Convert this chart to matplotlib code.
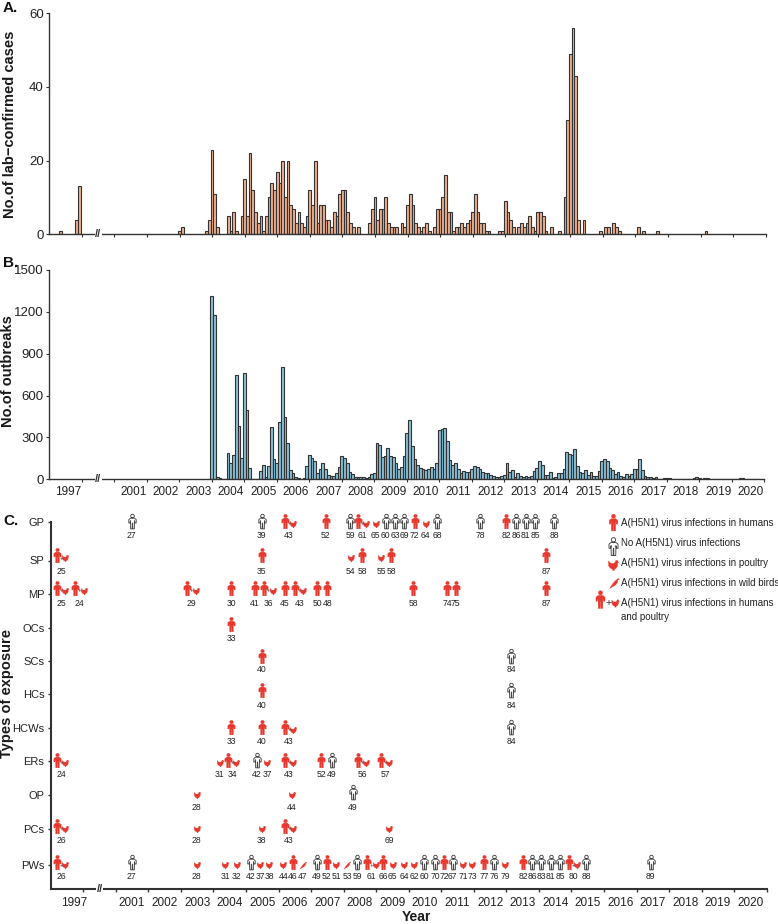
import numpy as np
import matplotlib
matplotlib.use("Agg")
import matplotlib.pyplot as plt
from matplotlib.path import Path

plt.rcParams['font.family'] = ['Liberation Sans', 'DejaVu Sans']

W, H = 778, 924

# ---------- monthly slots: 0-11 = 1997, 12-23 = axis break, 24.. = 2001 onward ----------
N_SLOTS = 264
year_ticks = list(range(12, 265, 12))
year_labels = ['1997'] + [str(y) for y in range(2001, 2021)]

cases_early_slots = [4, 10, 11, 48, 49]
cases_early = [1, 4, 13, 1, 2]
cases_main_start = 58
cases_main = [
    1, 4, 23, 11, 2, 0, 0, 0, 5, 1, 6, 1, 0, 5,
    15, 5, 22, 12, 6, 3, 5, 1, 5, 10, 14, 12,
    17, 14, 20, 10, 20, 8, 7, 3, 6, 3, 2, 5,
    12, 8, 20, 3, 8, 8, 4, 4, 2, 6, 5, 11,
    12, 12, 6, 3, 2, 0, 2, 0, 0, 0, 3, 7,
    10, 4, 7, 7, 10, 3, 2, 2, 2, 0, 3, 2,
    8, 11, 8, 3, 2, 1, 2, 3, 1, 0, 2, 7,
    7, 10, 16, 6, 6, 1, 2, 2, 3, 2, 3, 4,
    6, 11, 6, 3, 3, 1, 1, 0, 0, 0, 1, 1,
    9, 6, 4, 2, 0, 2, 3, 2, 3, 5, 2, 1,
    6, 6, 5, 1, 0, 2, 0, 0, 1, 0, 10, 31,
    49, 56, 43, 4, 0, 4, 0, 0, 0, 0, 0, 1,
    0, 2, 2, 0, 3, 2, 1, 0, 0, 0, 0, 0, 0, 2,
    0, 1, 0, 0, 0, 0, 1, 0, 0, 0, 0, 0, 0, 0, 0, 0,
    0, 0, 0, 0, 0, 0, 0, 0, 1,
]

outbreaks_start = 59
outbreaks = [
    5, 1315, 1180, 20, 8, 3, 5, 190, 115, 175, 750, 380, 150,
    760, 500, 80, 5, 3, 2, 60, 100, 20, 95, 375, 145,
    115, 410, 805, 450, 260, 65, 45, 15, 12, 5, 12, 95,
    175, 155, 130, 45, 75, 120, 75, 30, 22, 22, 45, 90,
    165, 150, 115, 55, 35, 20, 15, 18, 18, 10, 15, 35,
    42, 260, 245, 157, 165, 225, 165, 157, 120, 75, 85, 170,
    335, 425, 240, 145, 100, 80, 75, 68, 72, 90, 75, 115,
    355, 360, 365, 275, 140, 100, 115, 72, 43, 60, 50, 50,
    72, 93, 88, 72, 50, 45, 43, 30, 26, 20, 14, 26,
    30, 115, 50, 65, 20, 45, 26, 14, 26, 20, 26, 57,
    80, 130, 100, 30, 30, 50, 8, 20, 45, 45, 75, 195,
    178, 172, 220, 95, 55, 43, 65, 30, 50, 26, 26, 60,
    130, 148, 130, 80, 65, 40, 50, 26, 14, 35, 24, 38,
    75, 72, 143, 66, 24, 20, 14, 8, 14, 3, 5, 8,
    6, 6, 5, 5, 3, 4, 5, 3, 3, 2, 6, 18, 8, 3,
    8, 6, 3, 2, 2, 2, 1, 1, 2, 1, 1, 1, 3, 10, 12,
    4, 1, 1, 2, 1, 1,
]

# ---------- panel C ----------
row_names = ['GP', 'SP', 'MP', 'OCs', 'SCs', 'HCs', 'HCWs', 'ERs', 'OP', 'PCs', 'PWs']
row_tick = [521.5, 560.5, 594, 627.7, 660.7, 694, 727.7, 761, 795, 829, 865]
row_icon = [520.7, 555.3, 588, 623.7, 655.7, 690, 726.7, 760, 792.3, 826, 862.3]
row_text = [536, 571.3, 603.3, 638.3, 670, 705.3, 741.3, 774.3, 807.3, 840.7, 876.7]

# kinds: H human, N none, P poultry, W wild birds, B both human + poultry
gp = [(29.9, 'N', 27), (77.8, 'N', 39), (87.9, 'B', 43), (101.4, 'H', 52), (110.4, 'N', 59),
      (114.8, 'B', 61), (119.8, 'P', 65), (123.5, 'N', 60), (127.0, 'N', 63), (130.4, 'N', 69),
      (134.2, 'H', 72), (138.3, 'P', 64), (142.5, 'N', 68), (158.3, 'N', 78), (168.0, 'H', 82),
      (171.6, 'N', 86), (175.1, 'N', 81), (178.7, 'N', 85), (185.7, 'N', 88)]
sp = [(3.9, 'B', 25), (77.8, 'H', 35), (110.6, 'P', 54), (114.8, 'H', 58), (121.8, 'P', 55),
      (125.5, 'H', 58), (182.6, 'H', 87)]
mp = [(3.9, 'B', 25), (10.6, 'B', 24), (51.9, 'B', 29), (66.6, 'H', 30), (75.3, 'H', 41),
      (80.4, 'B', 36), (86.3, 'H', 45), (91.6, 'B', 43), (98.3, 'H', 50), (102.0, 'H', 48),
      (133.7, 'H', 58), (146.3, 'H', 74), (149.3, 'H', 75), (182.6, 'H', 87)]
ocs = [(66.6, 'H', 33)]
scs = [(77.8, 'H', 40), (169.7, 'N', 84)]
hcs = [(77.8, 'H', 40), (169.7, 'N', 84)]
hcws = [(66.6, 'H', 33), (77.8, 'H', 40), (87.9, 'B', 43), (169.7, 'N', 84)]
ers = [(3.9, 'B', 24), (62.3, 'P', 31), (66.9, 'B', 34), (76.1, 'N', 42), (79.8, 'P', 37),
       (87.9, 'B', 43), (99.7, 'H', 52), (103.7, 'N', 49), (114.8, 'B', 56), (123.3, 'B', 57)]
op = [(53.8, 'P', 28), (88.9, 'P', 44), (111.4, 'N', 49)]
pcs = [(3.9, 'B', 26), (53.8, 'P', 28), (77.8, 'P', 38), (87.9, 'B', 43), (124.8, 'P', 69)]
pws = [(3.9, 'B', 26), (29.9, 'N', 27), (53.8, 'P', 28), (64.4, 'P', 31), (68.6, 'P', 32),
       (73.7, 'N', 42), (77.3, 'P', 37), (80.6, 'P', 38), (85.8, 'P', 44), (89.2, 'H', 46),
       (92.9, 'W', 47), (98.2, 'N', 49), (101.8, 'H', 52), (105.3, 'P', 51), (109.3, 'W', 53),
       (113.0, 'N', 59), (118.3, 'B', 61), (122.7, 'H', 66), (126.1, 'P', 65), (130.3, 'P', 64),
       (134.0, 'P', 62), (137.8, 'N', 60), (141.7, 'N', 70), (145.0, 'H', 72), (148.2, 'N', 67),
       (152.0, 'P', 71), (155.5, 'P', 73), (159.8, 'H', 77), (163.5, 'N', 76), (167.5, 'P', 79),
       (174.2, 'H', 82), (177.5, 'N', 86), (180.9, 'N', 83), (184.4, 'N', 81), (187.8, 'N', 85),
       (192.7, 'B', 80), (197.4, 'N', 88), (221.2, 'N', 89)]
rows = [gp, sp, mp, ocs, scs, hcs, hcws, ers, op, pcs, pws]

legend_labels = ['A(H5N1) virus infections in humans', 'No A(H5N1) virus infections',
                 'A(H5N1) virus infections in poultry', 'A(H5N1) virus infections in wild birds',
                 'A(H5N1) virus infections in humans\nand poultry']

# ---------- styles ----------
RED = '#E8382D'
DARK = '#333333'
AX = '#333333'
PEACH = '#EFB08F'
BLUE = '#8ABFD6'


def person_path():
    head = Path.circle((0, 0.74), 0.24)
    body = Path([(-.25, .46), (.25, .46), (.5, .26), (.5, -.2), (.34, -.2), (.27, .1), (.25, -1), (.04, -1),
                 (.02, -.22), (-.02, -.22), (-.04, -1), (-.25, -1), (-.27, .1), (-.34, -.2), (-.5, -.2),
                 (-.5, .26), (-.25, .46)], closed=True)
    return Path.make_compound_path(head, body)


def hen_path():
    return Path([(-1, .9), (-.55, .45), (0, .4), (.3, .6), (.45, 1), (.75, 1), (1, .6), (.8, .4), (.8, -.1),
                 (.45, -.6), (.15, -.75), (.15, -1), (-.15, -1), (-.15, -.75), (-.6, -.55), (-.95, -.1), (-1, .9)],
                closed=True)


def bird_path():
    return Path([(-1, -1), (-.4, -.1), (.1, .5), (.5, .8), (.75, 1), (1, .85), (.7, .7), (.6, .2), (.2, -.3),
                 (-.3, -.6), (-1, -1)], closed=True)


PERSON, HEN, BIRD = person_path(), hen_path(), bird_path()


def make_axes(l, r, b, t):
    return fig.add_axes([l / W, 1 - b / H, (r - l) / W, (b - t) / H])


def draw_person(ax, x, y, red=True, size=10.6):
    if red:
        ax.plot([x], [y], marker=PERSON, ms=size, mfc=RED, mec=RED, mew=0.2, ls='none', clip_on=False)
    else:
        ax.plot([x], [y], marker=PERSON, ms=size, mfc='white', mec='#444444', mew=0.65, ls='none', clip_on=False)


def draw_hen(ax, x, y, size=4.8):
    ax.plot([x], [y], marker=HEN, ms=size, mfc=RED, mec=RED, mew=0.2, ls='none', clip_on=False)


def draw_bird(ax, x, y, size=5.0):
    ax.plot([x], [y], marker=BIRD, ms=size, mfc=RED, mec=RED, mew=0.2, ls='none', clip_on=False)


def style_x(ax, lw):
    ax.set_xlim(0, N_SLOTS)
    ax.spines['top'].set_visible(False)
    ax.spines['right'].set_visible(False)
    for s in ('left', 'bottom'):
        ax.spines[s].set_color(AX)
        ax.spines[s].set_linewidth(lw)
    ax.set_xticks(year_ticks)
    ax.set_xticklabels([])
    ax.tick_params(axis='x', which='major', length=2, width=0.8, color=AX)
    ax.tick_params(axis='y', which='major', length=2, width=0.8, color=AX, labelsize=9.5, pad=2, labelcolor='#222222')
    ax.text(18, 0, '//', transform=ax.get_xaxis_transform(), ha='center', va='center', fontsize=8, fontweight='bold',
            color=DARK, bbox=dict(fc='white', ec='none', pad=0.2), zorder=5, clip_on=False)


def year_tick_labels(ax, first, offset):
    centers = [first] + [y + 6 + offset for y in year_ticks[1:-1]]
    ax.set_xticks(centers, minor=True)
    ax.set_xticklabels(year_labels, minor=True, fontsize=8.5, color='#222222')
    ax.tick_params(axis='x', which='minor', length=0, pad=5)


fig = plt.figure(figsize=(W / 100, H / 100), dpi=100, facecolor='white')

# ---------- A ----------
axA = make_axes(49.3, 765.7, 234.3, 13.3)
cases = np.zeros(N_SLOTS)
cases[cases_early_slots] = cases_early
cases[cases_main_start:cases_main_start + len(cases_main)] = cases_main
nzA = np.nonzero(cases)[0]
axA.bar(nzA, cases[nzA], width=1.0, color=PEACH, edgecolor=DARK, linewidth=0.8)
style_x(axA, 1.0)
axA.set_ylim(0, 60)
axA.set_yticks([0, 20, 40, 60])

# ---------- B ----------
axB = make_axes(49.3, 764.3, 479.3, 270)
xB = np.arange(outbreaks_start, outbreaks_start + len(outbreaks))
axB.bar(xB, outbreaks, width=1.0, color=BLUE, edgecolor=DARK, linewidth=0.8)
style_x(axB, 1.0)
axB.set_ylim(0, 1500)
axB.set_yticks([0, 300, 600, 900, 1200, 1500])
year_tick_labels(axB, 7.0, 1.0)

# ---------- C ----------
axC = make_axes(50.7, 766.7, 889, 521.5)
style_x(axC, 1.5)
axC.set_ylim(889, 521.5)
axC.set_yticks(row_tick)
axC.set_yticklabels(row_names, fontsize=8)
axC.tick_params(axis='x', which='major', length=2.5, width=1.0)
axC.tick_params(axis='y', which='major', length=2.5, width=1.0, pad=2, labelsize=8)
year_tick_labels(axC, 8.6, 0.0)
axC.tick_params(axis='x', which='minor', pad=6)

for entries, yi, yt in zip(rows, row_icon, row_text):
    for x, kind, num in entries:
        if kind == 'H':
            draw_person(axC, x, yi)
        elif kind == 'N':
            draw_person(axC, x, yi, red=False)
        elif kind == 'P':
            draw_hen(axC, x, yi + 3)
        elif kind == 'W':
            draw_bird(axC, x, yi + 3)
        else:
            draw_person(axC, x - 1.6, yi)
            draw_hen(axC, x + 1.5, yi + 3)
            axC.text(x, yi + 2.8, '+', fontsize=4.5, ha='center', va='center', color='#333333')
        axC.text(x, yt, str(num), fontsize=6.2, ha='center', va='center', color='#222222')

# legend
LX = 210.2
draw_person(axC, 207.2, 522, size=12.2)
draw_person(axC, 207.2, 545.5, red=False, size=13)
draw_hen(axC, 207.2, 565, size=7.4)
draw_bird(axC, 207.6, 582.5, size=7.2)
draw_person(axC, 202.7, 599, size=13)
axC.text(205.6, 603, '+', fontsize=7.5, ha='center', va='center', color='#333333')
draw_hen(axC, 207.9, 603, size=5.4)
for lab, ly in zip(legend_labels, [522.7, 542.8, 563, 583, 610]):
    axC.text(LX, ly, lab, fontsize=7, ha='left', va='center', color='#222222', linespacing=1.6, clip_on=False)

# ---------- figure text ----------
fig.text(10 / W, 1 - 124 / H, 'No.of lab\u2212confirmed cases', rotation=90, ha='center', va='center',
         fontsize=10.5, fontweight='bold', color='#1a1a1a')
fig.text(8 / W, 1 - 371.5 / H, 'No.of outbreaks', rotation=90, ha='center', va='center',
         fontsize=10.5, fontweight='bold', color='#1a1a1a')
fig.text(7 / W, 1 - 693 / H, 'Types of exposure', rotation=90, ha='center', va='center',
         fontsize=10.5, fontweight='bold', color='#1a1a1a')
fig.text(416.5 / W, 1 - 917 / H, 'Year', ha='center', va='center', fontsize=10, fontweight='bold',
         color='#1a1a1a')
for lab, yy in zip(['A.', 'B.', 'C.'], [8.5, 262.5, 521]):
    fig.text(3 / W, 1 - yy / H, lab, ha='left', va='center', fontsize=11, fontweight='bold', color='#111111')

fig.savefig('out.png', dpi=100, facecolor='white')
